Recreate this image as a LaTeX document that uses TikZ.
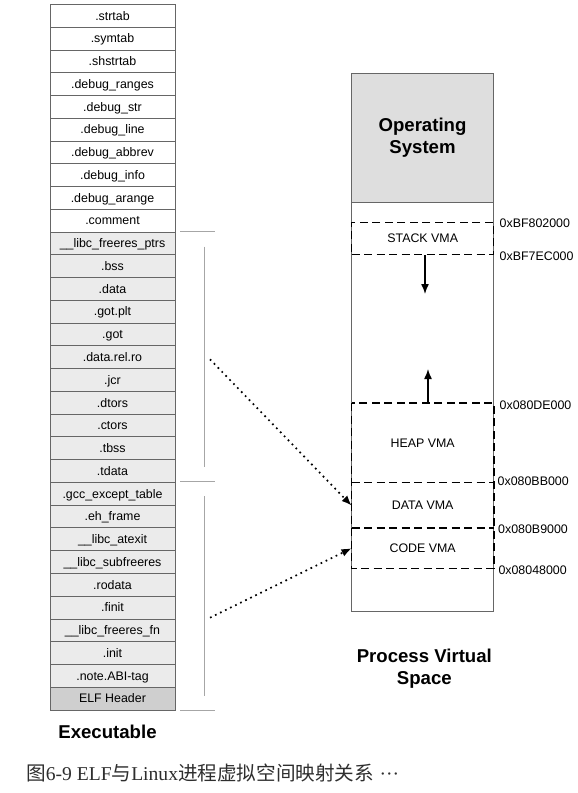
\documentclass[tikz,border=0pt]{standalone}
\usepackage{fontspec}
\setmainfont{Liberation Sans}
\newfontfamily\cjk{Noto Sans CJK SC}
\newfontfamily\capserif{Liberation Serif}
\usetikzlibrary{arrows.meta}

\definecolor{rowgray}{HTML}{EBEBEB}
\definecolor{hdrgray}{HTML}{CFCFCF}
\definecolor{osgray}{HTML}{DEDEDE}
\definecolor{capgray}{HTML}{2E2E2E}

\tikzset{
  sec/.style={draw=black!60, line width=0.6bp, minimum width=125bp, minimum height=22.76bp,
    inner sep=0pt, text height=11.4bp, text depth=2.6bp, font=\fontsize{12.4bp}{14bp}\selectfont},
  secgray/.style={sec, fill=rowgray},
  bracket/.style={draw=black!35, line width=0.8bp},
  column/.style={draw=black!60, line width=0.8bp},
  vma/.style={draw=black, line width=1.5bp, dash pattern=on 8bp off 4.5bp},
  vmatext/.style={minimum width=142bp, inner sep=0pt, font=\fontsize{12.4bp}{14bp}\selectfont},
  addr/.style={anchor=west, inner sep=0pt, font=\fontsize{12.4bp}{14bp}\selectfont},
  heading/.style={align=center, inner sep=0pt, font=\fontsize{18.6bp}{22.5bp}\selectfont\bfseries},
  dotarrow/.style={line width=1.7bp, dash pattern=on 1.7bp off 3.9bp, -{Latex[length=10bp,width=8bp]}},
  growarrow/.style={line width=1.4bp, -{Latex[length=10bp,width=8bp]}}
}

\begin{document}
\begin{tikzpicture}[x=1bp, y=-1bp]
\useasboundingbox (0,0) rectangle (578,793);

% sections of the executable
\foreach \name [count=\i] in {.strtab, .symtab, .shstrtab, .debug\_ranges, .debug\_str,
    .debug\_line, .debug\_abbrev, .debug\_info, .debug\_arange, .comment}
  \node[sec, fill=white] (sec\i) at (112.5, {22.76*\i-7.08}) {\name};
\foreach \name [count=\i from 11] in {\_\_libc\_freeres\_ptrs, .bss, .data, .got.plt, .got,
    .data.rel.ro, .jcr, .dtors, .ctors, .tbss, .tdata, .gcc\_except\_table, .eh\_frame,
    \_\_libc\_atexit, \_\_libc\_subfreeres, .rodata, .finit, \_\_libc\_freeres\_fn, .init, .note.ABI-tag}
  \node[secgray] (sec\i) at (112.5, {22.76*\i-7.08}) {\name};
\node[sec, fill=hdrgray] (sec31) at (112.5, 698.48) {ELF Header};

\node[heading] (exe) at (107.5, 731.5) {Executable};

% segment brackets
\draw[bracket] (180,231.6) -- (215,231.6);
\draw[bracket] (204.3,246.7) -- (204.3,466.7);
\draw[bracket] (180,481.5) -- (215,481.5);
\draw[bracket] (204.3,496) -- (204.3,696);
\draw[bracket] (180,710) -- (215,710);

% process virtual space
\node[heading, column, fill=osgray, minimum width=142bp, minimum height=129bp] (os) at (422.5, 137.8) {Operating\\System};
\draw[column] (351.5,73.3) rectangle (493.5,611);

\node[vmatext, vma, minimum height=32bp] (stackvma) at (422.7, 238.3) {STACK VMA};
\node[vmatext, minimum height=79.4bp] (heapvma) at (422.7, 443) {HEAP VMA};
\node[vmatext, minimum height=45.6bp] (datavma) at (422.7, 505.5) {DATA VMA};
\node[vmatext, minimum height=40bp] (codevma) at (422.7, 548.3) {CODE VMA};
\draw[vma] (heapvma.north west) rectangle (codevma.south east);
\draw[vma] (datavma.north west) -- (datavma.north east);
\draw[vma] (codevma.north west) -- (codevma.north east);

\node[addr] (a1) at (499.5, 223.3) {0xBF802000};
\node[addr] (a2) at (499.5, 256.7) {0xBF7EC000};
\node[addr] (a3) at (499.5, 405.7) {0x080DE000};
\node[addr] (a4) at (497.5, 481.7) {0x080BB000};
\node[addr] (a5) at (498, 529.5) {0x080B9000};
\node[addr] (a6) at (498.3, 570) {0x08048000};

\coordinate (stackEnd) at (425, 294);
\coordinate (heapEnd) at (428, 369);
\draw[growarrow] (stackvma.south -| stackEnd) -- (stackEnd);
\draw[growarrow] (heapvma.north -| heapEnd) -- (heapEnd);

\node[heading] (pvs) at (424.3, 668.5) {Process Virtual\\Space};

% mapping of the segments
\coordinate (dataSrc) at (210, 359.3);
\coordinate (codeSrc) at (210, 617.7);
\draw[dotarrow] (dataSrc) -- (datavma.west);
\draw[dotarrow] (codeSrc) -- (codevma.west);

\node[anchor=west, inner sep=0pt, text=capgray, font=\fontsize{19.6bp}{22bp}\selectfont] (caption) at (26, 773)
  {{\cjk 图}{\capserif 6-9 ELF}{\cjk 与}{\capserif Linux}{\cjk 进程虚拟空间映射关系} {\capserif ···}};
\end{tikzpicture}
\end{document}
